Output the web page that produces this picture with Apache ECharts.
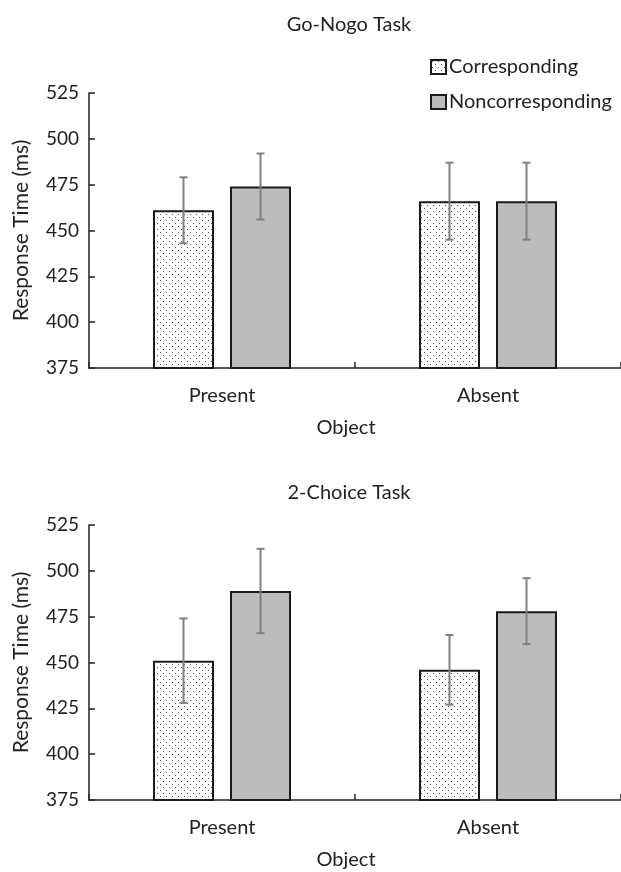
<!DOCTYPE html>
<html>
<head>
<meta charset="utf-8">
<script src="https://cdn.jsdelivr.net/npm/echarts@6/dist/echarts.min.js"></script>
<style>html,body{margin:0;padding:0;background:#fff;}#c{width:621px;height:872px;}</style>
</head>
<body>
<div id="c"></div>
<script>
var categories = ['Present', 'Absent'];
var yTicks = [375, 400, 425, 450, 475, 500, 525];
var seriesNames = ['Corresponding', 'Noncorresponding'];
var panelTitles = ['Go-Nogo Task', '2-Choice Task'];

var goNogoCorr = [461, 466];
var goNogoCorrErr = [18, 21];
var goNogoNon = [474, 466];
var goNogoNonErr = [18, 21];

var choiceCorr = [451, 446];
var choiceCorrErr = [23, 19];
var choiceNon = [489, 478];
var choiceNonErr = [23, 18];

var FONT = 'Lato';
var BAR_W = 61, BAR_GAP = 16;

function dotPattern() {
  var c = document.createElement('canvas');
  c.width = 6; c.height = 6;
  var g = c.getContext('2d');
  g.fillStyle = '#fff'; g.fillRect(0, 0, 6, 6);
  g.fillStyle = '#555';
  g.fillRect(1, 1, 1, 1);
  g.fillRect(4, 4, 1, 1);
  return { image: c, repeat: 'repeat' };
}
var pat = dotPattern();

var grids = [
  { left: 89, right: -3, top: 93, height: 275 },
  { left: 89, right: -3, top: 525, height: 275 }
];

function xAxisDef(i) {
  return {
    type: 'category', gridIndex: i, data: categories,
    axisLine: { lineStyle: { color: '#222', width: 1.5 } },
    axisTick: { show: true, inside: true, length: 6, lineStyle: { color: '#222', width: 1.5 } },
    axisLabel: { color: '#222', fontFamily: FONT, fontSize: 20, margin: 18 },
    name: 'Object', nameLocation: 'middle', nameGap: 50,
    nameTextStyle: { color: '#222', fontFamily: FONT, fontSize: 20, padding: [0, 18, 0, 0] }
  };
}
function yAxisDef(i) {
  return {
    type: 'value', gridIndex: i, min: 375, max: 525, interval: 25,
    splitLine: { show: false },
    axisLine: { show: true, lineStyle: { color: '#222', width: 1.5 } },
    axisTick: { show: true, inside: true, length: 6, lineStyle: { color: '#222', width: 1.5 } },
    axisLabel: { color: '#222', fontFamily: FONT, fontSize: 19, margin: 10 },
    name: 'Response Time (ms)', nameLocation: 'middle', nameGap: 57, nameRotate: 90,
    nameTextStyle: { color: '#222', fontFamily: FONT, fontSize: 21 }
  };
}

function barSeries(name, data, i, isCorr) {
  return {
    type: 'bar', name: name, xAxisIndex: i, yAxisIndex: i, data: data,
    barWidth: BAR_W, barGap: (BAR_GAP / BAR_W * 100) + '%',
    itemStyle: { color: isCorr ? pat : '#bcbcbc', borderColor: '#1a1a1a', borderWidth: 2 },
    z: 2
  };
}

function errSeries(i, means, errs, side) {
  var data = means.map(function (m, k) { return [k, m - errs[k], m + errs[k]]; });
  return {
    type: 'custom', xAxisIndex: i, yAxisIndex: i, data: data, z: 5,
    renderItem: function (params, api) {
      var off = side * (BAR_W + BAR_GAP) / 2;
      var lo = api.coord([api.value(0), api.value(1)]);
      var hi = api.coord([api.value(0), api.value(2)]);
      var x = lo[0] + off;
      var cap = 4;
      var st = { stroke: '#808080', lineWidth: 2 };
      return {
        type: 'group', children: [
          { type: 'line', shape: { x1: x, y1: lo[1], x2: x, y2: hi[1] }, style: st },
          { type: 'line', shape: { x1: x - cap, y1: lo[1], x2: x + cap, y2: lo[1] }, style: st },
          { type: 'line', shape: { x1: x - cap, y1: hi[1], x2: x + cap, y2: hi[1] }, style: st }
        ]
      };
    }
  };
}

var chart = echarts.init(document.getElementById('c'), null, { renderer: 'canvas' });
chart.setOption({
  backgroundColor: '#fff',
  animation: false,
  textStyle: { fontFamily: FONT },
  title: [
    { text: panelTitles[0], left: 344, top: 10, textAlign: 'center',
      textStyle: { fontFamily: FONT, fontSize: 20, fontWeight: 'normal', color: '#222' } },
    { text: panelTitles[1], left: 344, top: 478, textAlign: 'center',
      textStyle: { fontFamily: FONT, fontSize: 20, fontWeight: 'normal', color: '#222' } }
  ],
  legend: {
    data: seriesNames, orient: 'vertical', left: 430, top: 57, padding: 0,
    icon: 'rect', itemWidth: 15, itemHeight: 14, itemGap: 15,
    textStyle: { fontFamily: FONT, fontSize: 20, color: '#222', padding: [0, 0, 0, -2] },
    selectedMode: false
  },
  grid: grids,
  xAxis: [xAxisDef(0), xAxisDef(1)],
  yAxis: [yAxisDef(0), yAxisDef(1)],
  series: [
    barSeries(seriesNames[0], goNogoCorr, 0, true),
    barSeries(seriesNames[1], goNogoNon, 0, false),
    barSeries(seriesNames[0], choiceCorr, 1, true),
    barSeries(seriesNames[1], choiceNon, 1, false),
    errSeries(0, goNogoCorr, goNogoCorrErr, -1),
    errSeries(0, goNogoNon, goNogoNonErr, 1),
    errSeries(1, choiceCorr, choiceCorrErr, -1),
    errSeries(1, choiceNon, choiceNonErr, 1)
  ]
});
</script>
</body>
</html>
